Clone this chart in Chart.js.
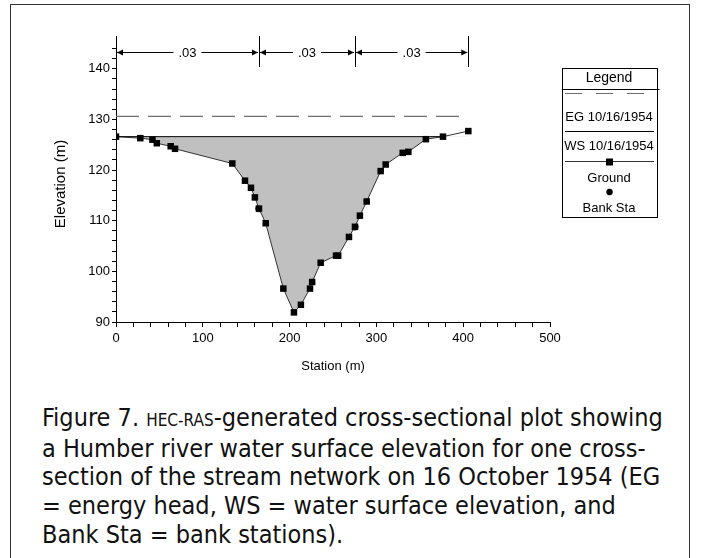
<!DOCTYPE html>
<html>
<head>
<meta charset="utf-8">
<script src="https://cdn.jsdelivr.net/npm/chart.js@4.4.0/dist/chart.umd.min.js"></script>
<style>
  html, body { margin: 0; padding: 0; background: #fff; }
  body { width: 701px; height: 558px; position: relative; overflow: hidden; }
  #frame { position: absolute; left: 10px; top: 4px; width: 678px; height: 600px; border: 1px solid #333; }
  #wrap { position: absolute; left: 0; top: 0; width: 701px; height: 395px; }
  #caption {
    position: absolute; left: 42px; top: 404px; width: 645px;
    font-family: "Liberation Sans Narrow", "DejaVu Sans Condensed", "Liberation Sans", sans-serif;
    font-size: 25px; line-height: 28.7px; color: #111; white-space: nowrap;
  }
  .sc { font-size: 17px; }
</style>
</head>
<body>
<div id="frame"></div>
<div id="wrap"><canvas id="xsChart" width="701" height="395"></canvas></div>
<div id="caption">Figure 7. <span class="sc">HEC-RAS</span>-generated cross-sectional plot showing<br>a Humber river water surface elevation for one cross-<br>section of the stream network on 16 October 1954 (EG<br>= energy head, WS = water surface elevation, and<br>Bank Sta = bank stations).</div>
<script>
// cross section data
const stations   = [0, 28, 42, 47, 63, 68, 134, 148.6, 155.5, 160, 164.7, 172.5, 192.8, 205, 213, 223.5, 226, 235.8, 253.5, 256, 268.4, 275.3, 281, 288.8, 304.9, 310.7, 330.3, 336.8, 357, 376.7, 405.9];
const groundElev = [126.6, 126.3, 126.0, 125.3, 124.7, 124.2, 121.3, 117.9, 116.5, 114.6, 112.4, 109.5, 96.6, 91.9, 93.4, 96.6, 97.9, 101.7, 103.1, 103.1, 106.8, 108.8, 111.0, 113.8, 119.8, 121.1, 123.4, 123.6, 126.1, 126.6, 127.7];
const wsElev = 126.6;
const wsStations = [0, 376.7];
const egElev = 130.6;
const egStations = [0, 397];
const bankStations = [164.7, 275.3];
const bankElev = [112.4, 108.8];
// manning's n sections along the top
const nBreaks = [0, 164.7, 275.3, 405.9];
const nLabels = ['.03', '.03', '.03'];
const seriesLabels = ['EG 10/16/1954', 'WS 10/16/1954', 'Ground', 'Bank Sta'];

const FONT = '"Liberation Sans", Arial, sans-serif';
Chart.defaults.font.family = FONT;
Chart.defaults.color = '#000';

const toPoints = (xs, ys) => xs.map((x, i) => ({ x: x, y: Array.isArray(ys) ? ys[i] : ys }));

// n-value arrows above the plot
const nValuePlugin = {
  id: 'nValues',
  afterDraw(chart) {
    const ctx = chart.ctx;
    const xs = chart.scales.x;
    const top = chart.chartArea.top;
    const yArrow = top + 6;
    ctx.save();
    ctx.strokeStyle = '#000';
    ctx.fillStyle = '#000';
    ctx.lineWidth = 1;
    nBreaks.forEach(b => {
      const px = Math.round(xs.getPixelForValue(b)) + 0.5;
      ctx.beginPath();
      ctx.moveTo(px, top - 10);
      ctx.lineTo(px, top + 21);
      ctx.stroke();
    });
    ctx.font = '13px ' + FONT;
    ctx.textAlign = 'center';
    ctx.textBaseline = 'middle';
    for (let i = 0; i < nLabels.length; i++) {
      const a = xs.getPixelForValue(nBreaks[i]);
      const b = xs.getPixelForValue(nBreaks[i + 1]);
      const mid = (a + b) / 2;
      const half = ctx.measureText(nLabels[i]).width / 2 + 5;
      ctx.beginPath();
      ctx.moveTo(a + 1, yArrow + 0.5);
      ctx.lineTo(mid - half, yArrow + 0.5);
      ctx.moveTo(mid + half, yArrow + 0.5);
      ctx.lineTo(b - 1, yArrow + 0.5);
      ctx.stroke();
      ctx.fillText(nLabels[i], mid, yArrow + 1);
      // arrow heads
      ctx.beginPath();
      ctx.moveTo(a + 1, yArrow + 0.5);
      ctx.lineTo(a + 7, yArrow - 2.5);
      ctx.lineTo(a + 7, yArrow + 3.5);
      ctx.closePath();
      ctx.moveTo(b - 1, yArrow + 0.5);
      ctx.lineTo(b - 7, yArrow - 2.5);
      ctx.lineTo(b - 7, yArrow + 3.5);
      ctx.closePath();
      ctx.fill();
    }
    ctx.restore();
  }
};

// boxed legend on the right
const boxLegendPlugin = {
  id: 'boxLegend',
  afterDraw(chart) {
    const ctx = chart.ctx;
    const L = 562.5, R = 657.5, T = 68.5, B = 217.5;
    const cx = (L + R) / 2 - 1;
    const sets = chart.data.datasets;
    ctx.save();
    ctx.strokeStyle = '#000';
    ctx.lineWidth = 1;
    ctx.strokeRect(L, T, R - L, B - T);
    ctx.beginPath();
    ctx.moveTo(L, 89.5);
    ctx.lineTo(R + 2, 89.5);
    ctx.stroke();
    ctx.font = '14px ' + FONT;
    ctx.fillStyle = '#000';
    ctx.textAlign = 'center';
    ctx.textBaseline = 'middle';
    ctx.fillText('Legend', cx, 78);
    ctx.font = '13px ' + FONT;
    // EG
    ctx.strokeStyle = sets[0].borderColor;
    ctx.setLineDash([17, 14]);
    ctx.beginPath();
    ctx.moveTo(565, 93.5);
    ctx.lineTo(654, 93.5);
    ctx.stroke();
    ctx.setLineDash([]);
    ctx.fillText(sets[0].label, cx, 117);
    // WS
    ctx.strokeStyle = sets[1].borderColor;
    ctx.beginPath();
    ctx.moveTo(565, 131.5);
    ctx.lineTo(654, 131.5);
    ctx.stroke();
    ctx.fillText(sets[1].label, cx, 146);
    // Ground
    ctx.strokeStyle = sets[2].borderColor;
    ctx.beginPath();
    ctx.moveTo(565, 161.5);
    ctx.lineTo(654, 161.5);
    ctx.stroke();
    ctx.fillRect(cx - 3, 158.5, 7, 7);
    ctx.fillText(sets[2].label, cx, 178);
    // Bank Sta
    ctx.beginPath();
    ctx.arc(cx + 0.5, 192, 3.2, 0, Math.PI * 2);
    ctx.fill();
    ctx.fillText(sets[3].label, cx, 208);
    ctx.restore();
  }
};

const ctx = document.getElementById('xsChart').getContext('2d');
new Chart(ctx, {
  type: 'scatter',
  data: {
    datasets: [{
      label: seriesLabels[0],
      data: toPoints(egStations, egElev),
      showLine: true,
      borderColor: '#6e6e6e',
      borderWidth: 1.3,
      borderDash: [23, 9],
      pointRadius: 0,
      fill: false
    }, {
      label: seriesLabels[1],
      data: toPoints(wsStations, wsElev),
      showLine: true,
      borderColor: '#000',
      borderWidth: 1,
      pointRadius: 0,
      fill: false
    }, {
      label: seriesLabels[2],
      data: toPoints(stations, groundElev),
      showLine: true,
      borderColor: '#333',
      borderWidth: 1,
      pointStyle: 'rect',
      pointRadius: 4.6,
      pointBackgroundColor: '#000',
      pointBorderWidth: 0,
      fill: { target: { value: wsElev }, above: 'rgba(0,0,0,0)', below: '#c0c0c0' }
    }, {
      label: seriesLabels[3],
      data: toPoints(bankStations, bankElev),
      showLine: false,
      pointStyle: 'circle',
      pointRadius: 3.6,
      pointBackgroundColor: '#000',
      pointBorderWidth: 0
    }]
  },
  options: {
    responsive: false,
    animation: false,
    events: [],
    layout: { padding: { left: 48, top: 46, right: 151, bottom: 17 } },
    plugins: { legend: { display: false }, tooltip: { enabled: false } },
    scales: {
      x: {
        type: 'linear',
        min: 0,
        max: 500,
        afterFit(scale) { scale.height = 56; },
        grid: { drawOnChartArea: false, drawTicks: true, tickLength: 5, color: '#000' },
        border: { display: true, color: '#000', width: 1 },
        ticks: {
          stepSize: 20,
          autoSkip: false,
          maxRotation: 0,
          includeBounds: false,
          padding: 4,
          font: { size: 13 },
          callback: v => (v % 100 === 0 ? v : '')
        },
        title: { display: true, text: 'Station (m)', font: { size: 13 }, padding: { top: 4, bottom: 4 } }
      },
      y: {
        type: 'linear',
        min: 90,
        max: 144.5,
        afterFit(scale) { scale.width = 68; },
        grid: { drawOnChartArea: false, drawTicks: true, tickLength: 4, color: '#000' },
        border: { display: true, color: '#000', width: 1 },
        ticks: {
          stepSize: 2,
          autoSkip: false,
          includeBounds: false,
          padding: 2,
          font: { size: 13 },
          callback: v => (v % 10 === 0 ? v : '')
        },
        title: { display: true, text: 'Elevation (m)', font: { size: 15 }, padding: { top: 4, bottom: 4 } }
      }
    }
  },
  plugins: [nValuePlugin, boxLegendPlugin]
});
</script>
</body>
</html>
